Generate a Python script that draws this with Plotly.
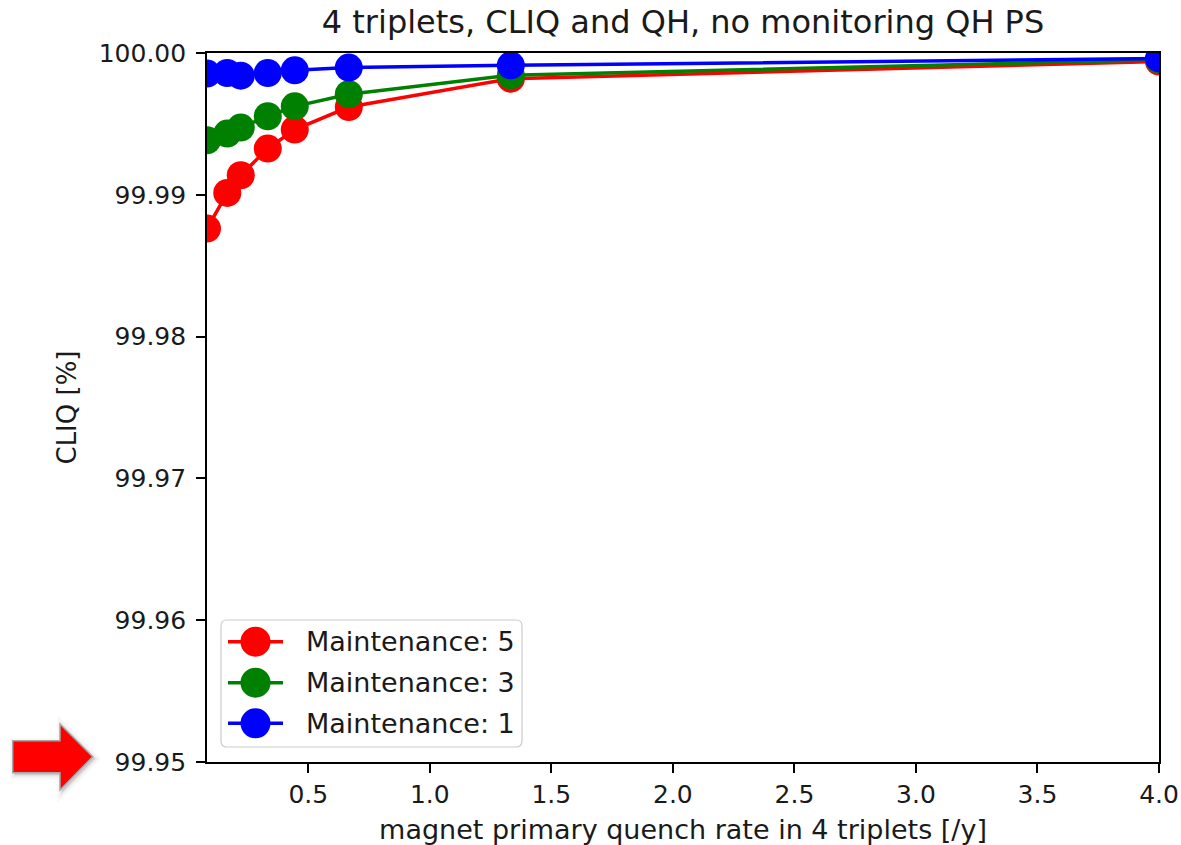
import plotly.graph_objects as go

# Primary quench rate in 4 triplets [/y]
quench_rate = [4 / 48, 4 / 24, 4 / 18, 4 / 12, 4 / 9, 4 / 6, 4 / 3, 4 / 1]

# CLIQ availability [%] per maintenance interval
cliq_maint_5 = [99.98762, 99.99013, 99.99138, 99.99326, 99.99460, 99.99619, 99.99819, 99.99940]
cliq_maint_3 = [99.99384, 99.99432, 99.99474, 99.99554, 99.99624, 99.99709, 99.99843, 99.99952]
cliq_maint_1 = [99.99855, 99.99859, 99.99840, 99.99859, 99.99878, 99.99897, 99.99913, 99.99962]

series_names = ["Maintenance: 5", "Maintenance: 3", "Maintenance: 1"]
series_colors = ["#ff0000", "#008000", "#0000ff"]

x_ticks = [0.5, 1.0, 1.5, 2.0, 2.5, 3.0, 3.5, 4.0]
y_ticks = [99.95, 99.96, 99.97, 99.98, 99.99, 100.00]

W, H = 1181, 845
ML, MR, MT, MB = 207, 22, 53, 83
PW, PH = W - ML - MR, H - MT - MB
FONT = "DejaVu Sans"
INK = "#1a1a1a"


def px(x):
    return (x - ML) / PW


def py(y):
    return (H - MB - y) / PH


fig = go.Figure()
for vals, name, color in zip([cliq_maint_5, cliq_maint_3, cliq_maint_1], series_names, series_colors):
    fig.add_trace(go.Scatter(
        x=quench_rate, y=vals, name=name, mode="lines+markers",
        line=dict(color=color, width=3.5),
        marker=dict(color=color, size=28, line=dict(width=0)),
        cliponaxis=True, showlegend=False,
    ))

axis_common = dict(
    showline=True, linecolor="black", linewidth=1.6, mirror=True,
    ticks="outside", ticklen=9, tickwidth=1.6, tickcolor="black",
    showgrid=False, zeroline=False, automargin=False,
    tickfont=dict(family=FONT, size=25, color=INK),
)

fig.update_xaxes(
    range=[quench_rate[0], 4.0], tickvals=x_ticks,
    ticktext=[f"{v:.1f}" for v in x_ticks],
    title_text="magnet primary quench rate in 4 triplets [/y]", title_standoff=16,
    title_font=dict(family=FONT, size=27, color=INK),
    **axis_common,
)
fig.update_yaxes(
    range=[99.95, 100.0], tickvals=y_ticks,
    ticktext=[f"{v:.2f}" for v in y_ticks],
    title_text="CLIQ [%]", title_standoff=15, ticklabelstandoff=5,
    title_font=dict(family=FONT, size=26, color=INK),
    **axis_common,
)

shapes = []
annotations = []

# Legend frame with rounded corners
lx0, lx1, ly0, ly1, r = 221, 522, 620, 747, 6


def rounded_rect(x0, y0, x1, y1, rad):
    pts = [
        f"M {px(x0 + rad)} {py(y0)}",
        f"L {px(x1 - rad)} {py(y0)}",
        f"Q {px(x1)} {py(y0)} {px(x1)} {py(y0 + rad)}",
        f"L {px(x1)} {py(y1 - rad)}",
        f"Q {px(x1)} {py(y1)} {px(x1 - rad)} {py(y1)}",
        f"L {px(x0 + rad)} {py(y1)}",
        f"Q {px(x0)} {py(y1)} {px(x0)} {py(y1 - rad)}",
        f"L {px(x0)} {py(y0 + rad)}",
        f"Q {px(x0)} {py(y0)} {px(x0 + rad)} {py(y0)}",
        "Z",
    ]
    return " ".join(pts)


shapes.append(dict(type="path", xref="paper", yref="paper", layer="above",
                   path=rounded_rect(lx0, ly0, lx1, ly1, r),
                   fillcolor="rgba(255,255,255,0.8)", line=dict(color="#cccccc", width=1.2)))

row_y = [641.7, 682.7, 723.3]
for yy, name, color in zip(row_y, series_names, series_colors):
    shapes.append(dict(type="line", xref="paper", yref="paper", layer="above",
                       x0=px(228), x1=px(283), y0=py(yy), y1=py(yy),
                       line=dict(color=color, width=3.5)))
    rad = 15
    shapes.append(dict(type="circle", xref="paper", yref="paper", layer="above",
                       x0=px(255.5 - rad), x1=px(255.5 + rad), y0=py(yy + rad), y1=py(yy - rad),
                       fillcolor=color, line=dict(width=0)))
    annotations.append(dict(xref="paper", yref="paper", x=px(304), y=py(yy),
                            xanchor="left", yanchor="middle", showarrow=False, text=name,
                            font=dict(family=FONT, size=27, color=INK)))

# Red arrow pointing at the lower axis limit, with a soft shadow
arrow_pts = [(12.7, 740.7), (60, 740.7), (60, 724), (92.7, 756.7), (60, 790), (60, 772.7), (12.7, 772.7)]


def arrow_path(dx, dy):
    p = " L ".join(f"{px(x + dx)} {py(y + dy)}" for x, y in arrow_pts)
    return f"M {p} Z"


for off, op, lw in [(2, 0.03, 9), (2, 0.04, 5), (2, 0.05, 2)]:
    shapes.append(dict(type="path", xref="paper", yref="paper", layer="above",
                       path=arrow_path(off, off), fillcolor=f"rgba(0,0,0,{op})",
                       line=dict(color=f"rgba(0,0,0,{op})", width=lw)))
shapes.append(dict(type="path", xref="paper", yref="paper", layer="above",
                   path=arrow_path(0, 0), fillcolor="#ff0000",
                   line=dict(color="#a6a6a6", width=1.5)))

fig.update_layout(
    width=W, height=H,
    margin=dict(l=ML, r=MR, t=MT, b=MB, autoexpand=False),
    paper_bgcolor="white", plot_bgcolor="white",
    title=dict(text="4 triplets, CLIQ and QH, no monitoring QH PS",
               x=0.5, xref="paper", xanchor="center",
               y=1 - 22 / H, yanchor="middle",
               font=dict(family=FONT, size=32, color=INK)),
    shapes=shapes, annotations=annotations,
    showlegend=False,
)

fig.write_html("out.html")
